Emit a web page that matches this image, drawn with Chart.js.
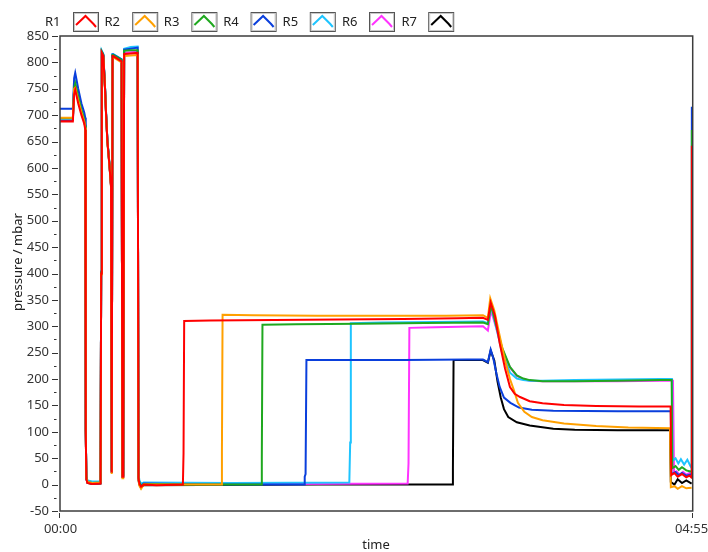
<!DOCTYPE html>
<html><head><meta charset="utf-8">
<script src="https://cdn.jsdelivr.net/npm/chart.js@4/dist/chart.umd.min.js"></script>
<style>html,body{margin:0;padding:0;background:#fff;}canvas{display:block;}</style>
</head><body>
<canvas id="c" width="708" height="552"></canvas>
<script>
// ---------- data (time in seconds, pressure in mbar) ----------
const seriesNames = ['R1', 'R2', 'R3', 'R4', 'R5', 'R6', 'R7'];
const seriesColors = ['#ff0000', '#ffa000', '#1fa81f', '#0a3fdc', '#1ec4ff', '#ff33ff', '#000000'];
const yTickMin = -50, yTickMax = 850, yTickStep = 50;
const xTickValues = [0, 295];
const xTickLabels = ['00:00', '04:55'];

const earlyTime = [0, 6.0, 6.6, 7.1, 8.5, 10.0, 11.3, 11.8, 12.0, 12.3, 12.8, 15.0, 18.9, 19.2, 19.5, 20.2, 21.0, 21.5, 22.1, 23.0, 23.8, 24.1, 24.5, 24.8, 28.7, 29.1, 29.5, 29.9, 33.0, 36.2, 36.6, 37.0, 37.8, 39.0];

const r1Early = [688, 688, 740, 748, 722, 700, 684, 672, 100, 10, 3, 1, 2, 400, 818, 812, 750, 700, 650, 608, 565, 23, 812, 812, 802, 15, 15, 816, 817, 818, 12, 2, -4, 0];
const r2Early = [695, 695, 750, 752, 728, 705, 688, 676, 98, 12, 5, 3, 4, 398, 816, 810, 748, 698, 648, 606, 563, 20, 808, 810, 800, 12, 12, 812, 813, 814, 10, -2, -8, 0];
const r3Early = [694, 694, 752, 760, 735, 710, 692, 680, 102, 14, 5, 3, 4, 402, 820, 814, 752, 702, 652, 610, 568, 26, 814, 814, 805, 18, 18, 822, 823, 823, 15, 4, -3, 1];
const r4Early = [712, 712, 770, 780, 750, 722, 705, 695, 104, 12, 4, 2, 3, 404, 820, 815, 752, 702, 652, 610, 567, 25, 815, 815, 806, 17, 17, 824, 826, 828, 14, 3, -2, 2];
const r5Early = [693, 693, 755, 762, 737, 712, 694, 682, 103, 15, 8, 6, 6, 403, 822, 816, 752, 702, 652, 610, 568, 27, 816, 816, 806, 20, 20, 826, 829, 830, 22, 8, 2, 4];
const r6Early = [692, 692, 752, 757, 732, 708, 690, 678, 101, 12, 4, 2, 3, 401, 819, 813, 751, 701, 651, 609, 566, 24, 813, 813, 803, 16, 16, 818, 819, 820, 13, 3, -3, 1];
const r7Early = [691, 691, 750, 755, 730, 706, 689, 677, 100, 11, 3, 1, 2, 400, 818, 812, 750, 700, 650, 608, 565, 22, 812, 812, 802, 15, 15, 817, 818, 818, 8, 0, -6, -1];

const r1LateTime = [45, 57.3, 57.6, 57.9, 70, 100, 130, 160, 185, 197.2, 199.5, 200.8, 202.8, 205.0, 207.5, 209.8, 212.0, 214.5, 219, 225, 235, 250, 270, 284.7, 285.0, 286.5, 288.0, 290.0, 292.0, 293.5, 294.5, 294.6];
const r1Late     = [-1, 0, 60, 310, 311, 312, 313, 314, 315, 316, 312, 345, 320, 268, 220, 185, 172, 166, 158, 154, 151, 149, 148, 148, 18, 22, 15, 20, 14, 17, 13, 642];

const r2LateTime = [50, 75.2, 75.5, 75.8, 90, 120, 150, 180, 197.2, 199.5, 200.6, 202.5, 205, 207.5, 209.8, 211.7, 213.5, 216.5, 220, 225, 235, 250, 265, 284.4, 284.8, 286.5, 288, 290, 292, 294.5];
const r2Late     = [0, 0, 60, 322, 321, 320, 320, 320, 321, 316, 353, 330, 282, 235, 200, 178, 155, 138, 128, 122, 116, 111, 108, 107, -5, -3, -8, -3, -7, -6];

const r3LateTime = [60, 93.8, 94.1, 94.4, 110, 140, 170, 197.2, 199.5, 201.0, 203.5, 206, 209.8, 213, 216, 219, 225, 240, 260, 280, 285.2, 285.5, 287, 288.5, 290, 292, 294, 294.5, 294.6];
const r3Late     = [0, 0, 50, 303, 304, 305, 306, 307, 304, 340, 300, 261, 223, 207, 201, 198, 196, 196, 197, 198, 198, 31, 35, 28, 33, 27, 25, 24, 672];

const r4LateTime = [70, 113.8, 114.1, 114.5, 114.9, 130, 160, 190, 197.2, 199.5, 200.8, 202, 203.5, 205, 207, 210, 214, 220, 230, 260, 284.8, 285.1, 287, 288.5, 290, 292, 294, 294.5, 294.6];
const r4Late     = [0, 0, 15, 20, 236, 236, 236, 237, 237, 232, 256, 240, 210, 185, 165, 155, 146, 142, 140, 139, 139, 20, 24, 18, 22, 17, 19, 18, 716];

const r5LateTime = [80, 134.9, 135.3, 135.6, 150, 175, 197.2, 199.5, 201.0, 203.5, 206, 209.8, 213, 216, 219, 225, 240, 260, 280, 285.3, 285.6, 287, 288.3, 289.5, 291, 292.5, 294, 294.8];
const r5Late     = [3, 4, 80, 306, 307, 308, 309, 306, 338, 296, 252, 212, 201, 198, 197, 197, 198, 199, 200, 200, 45, 50, 40, 48, 38, 47, 35, 30];

const r6LateTime = [100, 162.1, 162.5, 162.9, 175, 197.2, 199.5, 201.0, 203.5, 206, 209.8, 213, 216, 219, 225, 240, 260, 280, 285.8, 286.3, 287.5, 289, 290.5, 292, 293.5, 294.8];
const r6Late     = [1, 2, 40, 297, 298, 300, 292, 330, 295, 258, 222, 206, 200, 197, 196, 196, 196, 197, 197, 22, 25, 18, 24, 19, 22, 18];

const r7LateTime = [120, 182.8, 183.2, 183.5, 190, 197.2, 199.5, 200.8, 202.5, 204, 205.5, 207, 209, 213, 219, 230, 240, 260, 284.4, 284.8, 286.5, 288, 290, 292, 294.5];
const r7Late     = [0, 0, 30, 236, 236, 236, 231, 254, 235, 195, 165, 143, 128, 118, 112, 106, 104, 103, 103, 5, 0, 10, 3, 8, 2];

const earlyValues = [r1Early, r2Early, r3Early, r4Early, r5Early, r6Early, r7Early];
const lateTimes = [r1LateTime, r2LateTime, r3LateTime, r4LateTime, r5LateTime, r6LateTime, r7LateTime];
const lateValues = [r1Late, r2Late, r3Late, r4Late, r5Late, r6Late, r7Late];

// ---------- build datasets ----------
const datasets = seriesNames.map((name, i) => {
  const t = earlyTime.concat(lateTimes[i]);
  const v = earlyValues[i].concat(lateValues[i]);
  return {
    label: name,
    data: t.map((x, k) => ({ x: x, y: v[k] })),
    borderColor: seriesColors[i],
    backgroundColor: seriesColors[i],
    borderWidth: 2,
    pointRadius: 0,
    tension: 0,
    fill: false
  };
});

const FONT = '"Noto Sans", "DejaVu Sans", sans-serif';

const decor = {
  id: 'decor',
  afterDraw(chart) {
    const ctx = chart.ctx, a = chart.chartArea, xs = chart.scales.x, ys = chart.scales.y;
    ctx.save();
    // frame
    ctx.strokeStyle = '#3c3c3c';
    ctx.lineWidth = 1.5;
    ctx.strokeRect(a.left, a.top, a.right - a.left, a.bottom - a.top);
    // y tick marks (major + minor)
    ctx.lineWidth = 1;
    ctx.strokeStyle = '#333';
    for (let v = yTickMin; v <= yTickMax; v += yTickStep / 2) {
      const y = Math.round(ys.getPixelForValue(v)) + 0.5;
      const major = (v - yTickMin) % yTickStep === 0;
      ctx.beginPath();
      ctx.moveTo(a.left - (major ? 8 : 6), y);
      ctx.lineTo(a.left - (major ? 2 : 3.5), y);
      ctx.stroke();
    }
    // x ticks and labels
    ctx.fillStyle = '#333';
    ctx.font = '13px ' + FONT;
    ctx.textBaseline = 'middle';
    xTickValues.forEach((v, i) => {
      const x = Math.round(xs.getPixelForValue(v)) + 0.5;
      ctx.beginPath();
      ctx.moveTo(x - 1, a.bottom + 2);
      ctx.lineTo(x - 1, a.bottom + 7);
      ctx.stroke();
      ctx.textAlign = 'center';
      let lx = x;
      if (i === xTickValues.length - 1) lx = x - 2;
      ctx.fillText(xTickLabels[i], lx, 529);
    });
    // axis titles
    ctx.fillStyle = '#222';
    ctx.textAlign = 'center';
    ctx.fillText('time', 376, 545);
    ctx.save();
    ctx.translate(18, 262);
    ctx.rotate(-Math.PI / 2);
    ctx.fillText('pressure / mbar', 0, 0);
    ctx.restore();
    // legend: label then swatch
    ctx.font = '13px ' + FONT;
    seriesNames.forEach((name, i) => {
      const tx = 45 + i * 59.4;
      const bx = 73 + i * 59.2;
      ctx.fillStyle = '#222';
      ctx.textAlign = 'left';
      ctx.fillText(name, tx, 22);
      ctx.fillStyle = '#fff';
      ctx.fillRect(bx, 12, 26, 20);
      ctx.strokeStyle = '#555';
      ctx.lineWidth = 1;
      ctx.strokeRect(bx + 0.5, 12.5, 25, 19);
      ctx.strokeStyle = '#c8c8c8';
      ctx.strokeRect(bx + 1.5, 13.5, 23, 17);
      ctx.strokeStyle = seriesColors[i];
      ctx.lineWidth = 2;
      ctx.beginPath();
      ctx.moveTo(bx + 3, 25);
      ctx.lineTo(bx + 12.5, 16);
      ctx.lineTo(bx + 20.5, 24);
      ctx.lineTo(bx + 23, 27);
      ctx.stroke();
    });
    ctx.restore();
  }
};

new Chart(document.getElementById('c'), {
  type: 'line',
  data: { datasets: datasets },
  options: {
    responsive: false,
    animation: false,
    events: [],
    layout: { padding: { top: 36, right: 15.3, left: 0, bottom: 0 } },
    plugins: { legend: { display: false }, tooltip: { enabled: false } },
    scales: {
      x: {
        type: 'linear',
        min: xTickValues[0],
        max: xTickValues[1],
        grid: { display: false },
        border: { display: false },
        ticks: { display: false },
        afterFit(scale) { scale.height = 41; }
      },
      y: {
        type: 'linear',
        min: yTickMin,
        max: yTickMax,
        grid: { display: false, drawTicks: false },
        border: { display: false },
        ticks: {
          stepSize: yTickStep,
          color: '#333',
          padding: 11,
          font: { size: 13, family: FONT }
        },
        afterFit(scale) { scale.width = 60; }
      }
    }
  },
  plugins: [decor]
});
</script>
</body></html>
